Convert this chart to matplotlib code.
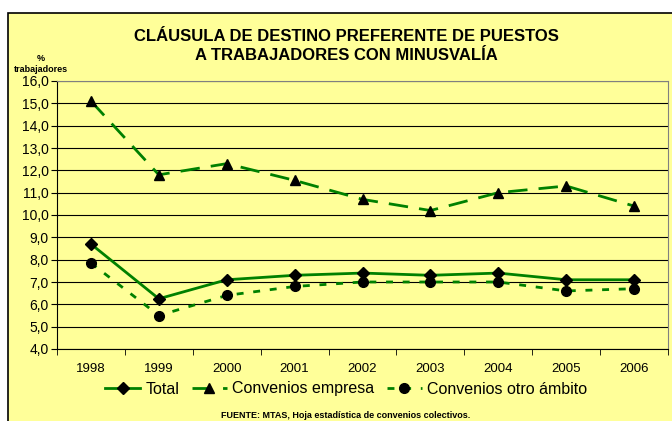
import matplotlib
matplotlib.use('Agg')
from matplotlib import pyplot as plt
from matplotlib.patches import Rectangle
import numpy as np

plt.rcParams['font.family'] = ['Liberation Sans', 'DejaVu Sans']

years = ['1998', '1999', '2000', '2001', '2002', '2003', '2004', '2005', '2006']
total = [8.7, 6.25, 7.1, 7.3, 7.4, 7.3, 7.4, 7.1, 7.1]
empresa = [15.1, 11.8, 12.3, 11.55, 10.7, 10.2, 11.0, 11.3, 10.4]
otro = [7.85, 5.5, 6.4, 6.8, 7.0, 7.0, 7.0, 6.6, 6.7]

bg = '#FFFF99'
green = '#008000'
cx = 346 / 672  # horizontal centre of the chart frame

fig = plt.figure(figsize=(6.72, 4.21), dpi=100)
fig.patch.set_facecolor('white')
fig.patches.append(Rectangle((8 / 672, -0.01), 0.99, (421 - 13) / 421 + 0.01,
                             transform=fig.transFigure, facecolor=bg,
                             edgecolor='black', linewidth=1.2, zorder=-10))

ax = fig.add_axes([57 / 672, (421 - 349) / 421, 611 / 672, 268 / 421])
ax.set_facecolor(bg)

x = np.arange(len(years))
ax.plot(x, total, color=green, lw=2, marker='D', ms=6, mfc='black', mec='black',
        label='Total', zorder=3)
ax.plot(x, empresa, color=green, lw=2, dashes=(7, 4), marker='^', ms=7,
        mfc='black', mec='black', label='Convenios empresa', zorder=3)
ax.plot(x, otro, color=green, lw=2, dashes=(2.5, 3.5), marker='o', ms=7,
        mfc='black', mec='black', label='Convenios otro ámbito', zorder=3)

ax.set_xlim(-0.5, len(years) - 0.5)
ax.set_ylim(4, 16)
ax.set_yticks(np.arange(4, 16.1, 1))
ax.yaxis.set_major_formatter(matplotlib.ticker.FuncFormatter(lambda v, p: ('%.1f' % v).replace('.', ',')))
ax.tick_params(axis='y', labelsize=10)
ax.set_xticks(x)
ax.set_xticklabels(years, fontsize=9.5)
ax.set_xticks(np.arange(-0.5, len(years)), minor=True)
ax.tick_params(axis='x', which='major', length=0, pad=10)
ax.tick_params(axis='x', which='minor', length=4, direction='out')
ax.tick_params(axis='y', length=4, direction='out', pad=2)
ax.grid(axis='y', color='black', lw=0.8)
ax.set_axisbelow(True)
for s in ['top', 'right']:
    ax.spines[s].set_color('#808080')
ax.spines['left'].set_color('black')
ax.spines['bottom'].set_color('black')

fig.text(cx, 1 - 46 / 421, 'CLÁUSULA DE DESTINO PREFERENTE DE PUESTOS\nA TRABAJADORES CON MINUSVALÍA',
         ha='center', va='center', fontsize=12, fontweight='bold', linespacing=1.3)
fig.text(41 / 672, 1 - 64 / 421, '%\ntrabajadores', ha='center', va='center',
         fontsize=6.5, fontweight='bold', linespacing=1.3)

fig.legend(loc='center', bbox_to_anchor=(cx, 1 - 389 / 421), ncol=3, frameon=False,
           fontsize=11.5, handlelength=2.2, handletextpad=0.3, columnspacing=0.8)
fig.text(cx, 1 - 416 / 421, 'FUENTE: MTAS, Hoja estadística de convenios colectivos.',
         ha='center', va='center', fontsize=6.5, fontweight='bold')

fig.savefig('out.png', dpi=100, facecolor=fig.get_facecolor())
